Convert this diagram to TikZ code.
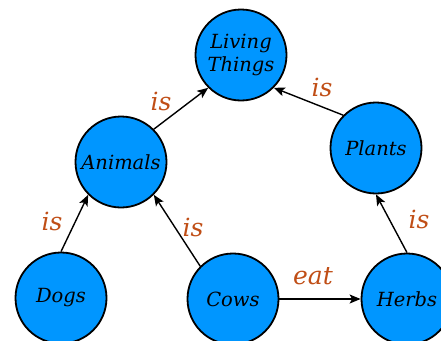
\documentclass[tikz,border=0pt]{standalone}
\usepackage{fontspec}
\setmainfont{DejaVu Serif}
\usetikzlibrary{arrows.meta}
\definecolor{nodeblue}{RGB}{0,150,255}
\definecolor{lblcol}{RGB}{192,78,22}
\begin{document}
\begin{tikzpicture}[x=1pt,y=-1pt,
  concept/.style={circle,draw=black,line width=1.8pt,fill=nodeblue,minimum size=91pt,inner sep=0pt,align=center,font=\fontsize{19.5}{23}\selectfont\itshape},
  rel/.style={line width=1.4pt,-{Stealth[length=11pt,width=9pt,inset=2.5pt]}},
  lbl/.style={text=lblcol,font=\fontsize{25}{28}\selectfont\itshape,inner sep=0pt}]
\useasboundingbox (0,0) rectangle (441,340);
\node[concept] (living) at (241,55) {Living\\Things};
\node[concept] (animals) at (121,162) {Animals};
\node[concept] (plants) at (376,148) {Plants};
\node[concept] (dogs) at (61,298) {Dogs};
\node[concept] (cows) at (233,299) {Cows};
\node[concept] (herbs) at (407,299) {Herbs};
\draw[rel] (animals.north east) -- (living.south west);
\draw[rel] (plants.north west) -- (living.south east);
\draw[rel] (dogs.north) -- (animals.south west);
\draw[rel] (cows.north west) -- (animals.south east);
\draw[rel] (herbs.north) -- (plants.south);
\draw[rel] (cows.east) -- (herbs.west);
\node[lbl] (l1) at (161,101) {is};
\node[lbl] (l2) at (322,87) {is};
\node[lbl] (l3) at (52,221) {is};
\node[lbl] (l4) at (193,227) {is};
\node[lbl] (l5) at (419,219) {is};
\node[lbl] (l6) at (313,276) {eat};
\end{tikzpicture}
\end{document}
